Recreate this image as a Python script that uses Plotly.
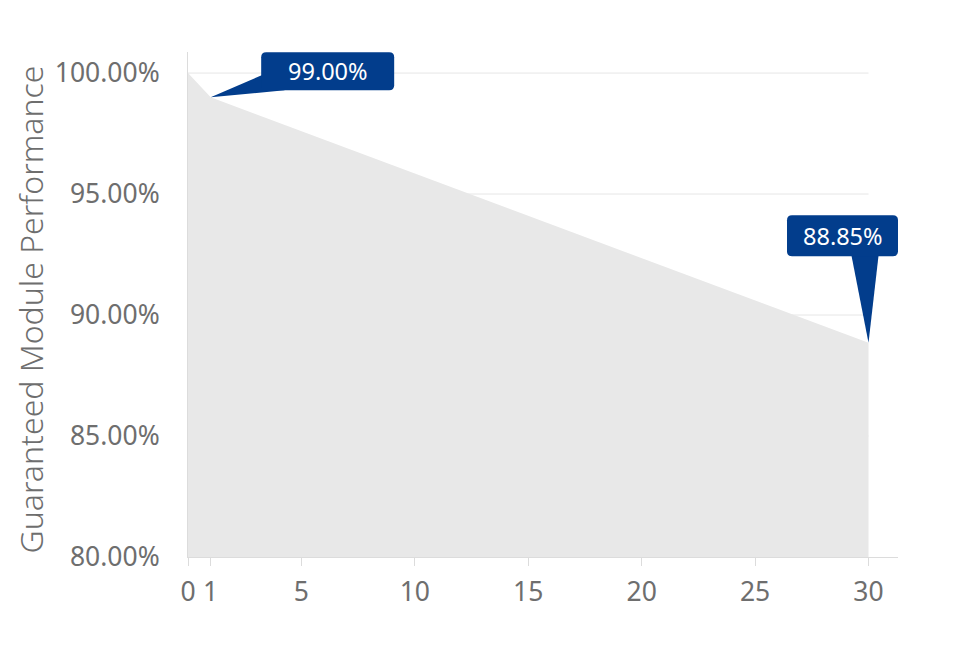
import plotly.graph_objects as go

years = [0, 1, 30]
performance = [100.0, 99.0, 88.85]
x_ticks = [0, 1, 5, 10, 15, 20, 25, 30]
y_ticks = [80, 85, 90, 95, 100]
y_tick_labels = ["80.00%", "85.00%", "90.00%", "95.00%", "100.00%"]
y_title = "Guaranteed Module Performance"
callout_years = [1, 30]
callout_values = [99.0, 88.85]
callout_labels = ["99.00%", "88.85%"]

BLUE = "#023d8c"
GRAY_FILL = "#e8e8e8"
AXIS = "#dcdcdc"
TEXT = "#6e6e6e"
FONT = "Noto Sans"

fig = go.Figure()
fig.add_trace(go.Scatter(
    x=years, y=performance, mode="lines", fill="tozeroy",
    fillcolor=GRAY_FILL, line=dict(color=GRAY_FILL, width=0),
    hoverinfo="skip", showlegend=False,
))

shapes = []
for yv in y_ticks[1:]:
    shapes.append(dict(type="line", xref="x", yref="y", x0=x_ticks[0], x1=x_ticks[-1],
                       y0=yv, y1=yv, line=dict(color="#e6e6e6", width=1), layer="below"))


def rounded_rect(cx, cy, w, h, r):
    x0, x1 = cx - w / 2, cx + w / 2
    y0, y1 = cy - h / 2, cy + h / 2
    return (f"M{x0 + r},{y1} L{x1 - r},{y1} Q{x1},{y1} {x1},{y1 - r} "
            f"L{x1},{y0 + r} Q{x1},{y0} {x1 - r},{y0} L{x0 + r},{y0} "
            f"Q{x0},{y0} {x0},{y0 + r} L{x0},{y1 - r} Q{x0},{y1} {x0 + r},{y1} Z")


# callout geometry in pixel offsets (up positive)
callouts = [
    dict(cx=117, cy=26, w=133, h=38, wedge=[(51, 22), (74, 7)]),
    dict(cx=-26, cy=107, w=111, h=41, wedge=[(-17, 87), (10, 87)]),
]
annotations = []
for xv, yv, lab, c in zip(callout_years, callout_values, callout_labels, callouts):
    (ax1, ay1), (ax2, ay2) = c["wedge"]
    shapes.append(dict(type="path", xref="x", yref="y", xsizemode="pixel", ysizemode="pixel",
                       xanchor=xv, yanchor=yv,
                       path=f"M0,0 L{ax1},{ay1} L{ax2},{ay2} Z",
                       fillcolor=BLUE, line=dict(width=0), layer="above"))
    shapes.append(dict(type="path", xref="x", yref="y", xsizemode="pixel", ysizemode="pixel",
                       xanchor=xv, yanchor=yv,
                       path=rounded_rect(c["cx"], c["cy"], c["w"], c["h"], 5),
                       fillcolor=BLUE, line=dict(width=0), layer="above"))
    annotations.append(dict(x=xv, y=yv, xref="x", yref="y", text=lab, showarrow=False,
                            xanchor="center", yanchor="middle", xshift=c["cx"], yshift=c["cy"],
                            font=dict(family=FONT, size=23.5, color="white")))

# y-axis title as a rotated annotation
annotations.append(dict(x=0, y=0.5, xref="paper", yref="paper", text=y_title, showarrow=False,
                        textangle=-90, xanchor="center", yanchor="middle",
                        xshift=-158, yshift=-5, borderpad=0,
                        font=dict(family=FONT, size=32, color=TEXT, weight=300)))

fig.update_layout(
    width=955, height=649,
    margin=dict(l=180, r=65, t=44, b=100),
    paper_bgcolor="white", plot_bgcolor="white",
    shapes=shapes, annotations=annotations,
    font=dict(family=FONT, color=TEXT),
    xaxis=dict(range=[0, 31.3], tickvals=x_ticks, ticktext=[str(t) for t in x_ticks],
               showgrid=False, zeroline=False, showline=True, linecolor=AXIS, linewidth=1,
               ticks="outside", ticklen=8, tickcolor=AXIS, ticklabelstandoff=3,
               automargin=False,
               tickfont=dict(family=FONT, size=26.5, color=TEXT)),
    yaxis=dict(range=[80, 100.87], tickvals=y_ticks, ticktext=y_tick_labels,
               showgrid=False, zeroline=False, showline=True, linecolor=AXIS, linewidth=1,
               ticks="", ticklabelstandoff=22, automargin=False,
               tickfont=dict(family=FONT, size=26.5, color=TEXT)),
)

fig.write_html("out.html")
